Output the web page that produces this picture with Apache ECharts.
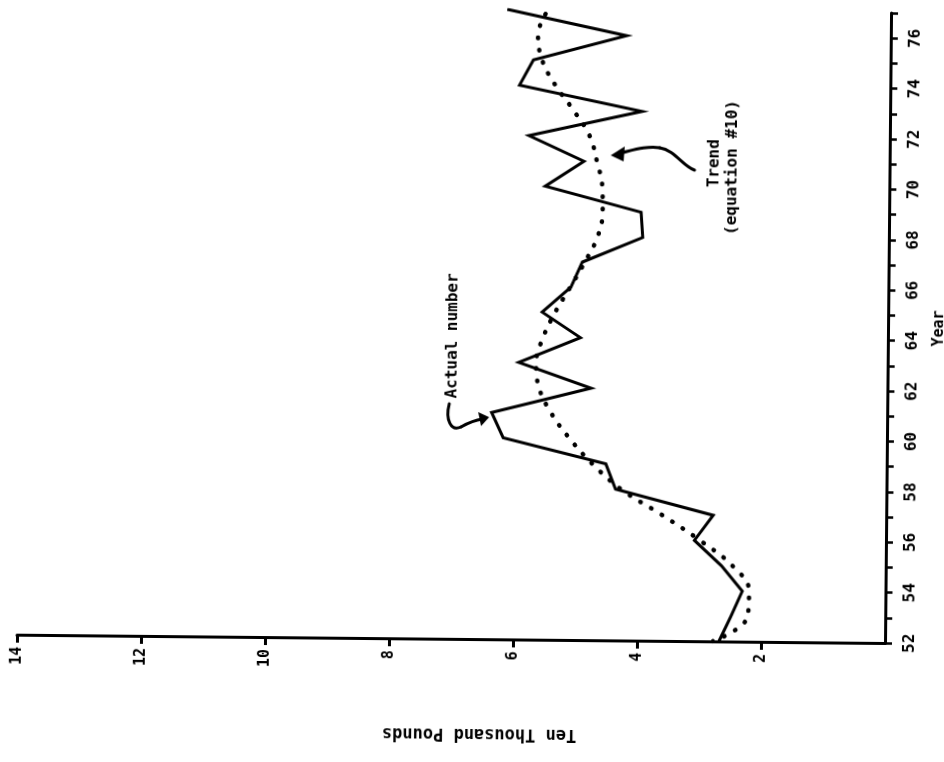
<!DOCTYPE html>
<html>
<head>
<meta charset="utf-8">
<title>Ten Thousand Pounds by Year</title>
<script src="https://cdn.jsdelivr.net/npm/echarts@6/dist/echarts.min.js"></script>
<style>
  html, body { margin: 0; padding: 0; background: #fff; }
  /* the printed page sits very slightly askew; pivot on the axis corner */
  #chart { width: 944px; height: 762px; transform: rotate(0.55deg); transform-origin: 885px 643px; }
</style>
</head>
<body>
<div id="chart"></div>
<script>
// Years plotted along the vertical axis
const years = [52, 53, 54, 55, 56, 57, 58, 59, 60, 61, 62, 63, 64, 65, 66, 67, 68, 69, 70, 71, 72, 73, 74, 75, 76, 77];
// Actual number, ten thousand pounds
const actualValues = [2.68, 2.49, 2.31, 2.65, 3.09, 2.79, 4.37, 4.53, 6.19, 6.38, 4.78, 5.95, 4.96, 5.58, 5.12, 4.94, 3.97, 4.00, 5.55, 4.93, 5.82, 4.00, 5.98, 5.76, 4.26, 6.19];
// Trend (equation #10), ten thousand pounds
const trendValues = [2.78, 2.22, 2.20, 2.47, 3.00, 3.62, 4.28, 4.75, 5.12, 5.42, 5.62, 5.67, 5.56, 5.37, 5.13, 4.90, 4.70, 4.62, 4.63, 4.72, 4.84, 5.10, 5.40, 5.62, 5.69, 5.53];
// Tick labels
const poundTicks = [2, 4, 6, 8, 10, 12, 14];
const yearLabelStep = 2;

const FONT = '"DejaVu Sans Mono", "Liberation Mono", monospace';

const actualData = years.map((y, i) => [actualValues[i], y]);
const trendData = years.map((y, i) => [trendValues[i], y]);

const chart = echarts.init(document.getElementById('chart'), null, { renderer: 'canvas' });

function curve(x1, y1, cpx1, cpy1, cpx2, cpy2, x2, y2) {
  return {
    type: 'bezierCurve',
    shape: { x1, y1, cpx1, cpy1, cpx2, cpy2, x2, y2 },
    style: { stroke: '#000', lineWidth: 3, fill: null, lineCap: 'round' }
  };
}

function note(text, x, y) {
  return {
    type: 'text',
    x, y,
    rotation: Math.PI / 2,
    style: {
      text,
      fill: '#000',
      font: 'bold 16px ' + FONT,
      textAlign: 'center',
      textVerticalAlign: 'middle'
    }
  };
}

chart.setOption({
  backgroundColor: '#ffffff',
  animation: false,
  grid: { left: 17, right: 59, top: 13, bottom: 119, containLabel: false, outerBoundsMode: 'none' },
  xAxis: {
    type: 'value',
    inverse: true,
    min: 0,
    max: 14,
    position: 'bottom',
    splitLine: { show: false },
    axisLine: { show: true, lineStyle: { color: '#000', width: 3 } },
    axisTick: { show: true, customValues: poundTicks, length: 8, lineStyle: { color: '#000', width: 3 } },
    axisLabel: {
      customValues: poundTicks,
      rotate: 90,
      margin: 12,
      color: '#000',
      fontFamily: FONT,
      fontWeight: 'bold',
      fontSize: 15
    }
  },
  yAxis: {
    type: 'value',
    min: 52,
    max: 77,
    interval: 1,
    position: 'right',
    name: 'Year',
    nameLocation: 'middle',
    nameRotate: 90,
    nameGap: 44,
    nameTextStyle: { color: '#000', fontFamily: FONT, fontWeight: 'bold', fontSize: 15 },
    splitLine: { show: false },
    axisLine: { show: true, lineStyle: { color: '#000', width: 3 } },
    axisTick: { show: true, length: 7, lineStyle: { color: '#000', width: 2.5 } },
    axisLabel: {
      rotate: 90,
      margin: 17,
      color: '#000',
      fontFamily: FONT,
      fontWeight: 'bold',
      fontSize: 16,
      formatter: v => (v % yearLabelStep === 0 && v < 77) ? String(v) : ''
    }
  },
  series: [
    {
      name: 'Actual number',
      type: 'line',
      data: actualData,
      symbol: 'none',
      lineStyle: { color: '#000', width: 3, join: 'miter' },
      z: 3
    },
    {
      name: 'Trend (equation #10)',
      type: 'line',
      data: trendData,
      smooth: 0.4,
      symbol: 'none',
      lineStyle: { color: '#000', width: 4.5, type: [0.5, 12], cap: 'round' },
      z: 2
    }
  ],
  graphic: [
    // value-axis title, printed upside down
    {
      type: 'text',
      x: 480, y: 737,
      rotation: Math.PI,
      style: {
        text: 'Ten Thousand Pounds',
        fill: '#000',
        font: 'bold 17px ' + FONT,
        textAlign: 'center',
        textVerticalAlign: 'middle'
      }
    },
    // "Actual number" note with its curled pointer
    note('Actual number', 450, 340),
    curve(447, 408, 443, 424, 449, 436, 459, 431),
    curve(459, 431, 466, 427, 472, 424, 480, 423),
    {
      type: 'polygon',
      shape: { points: [[487, 421], [476, 416], [479, 430]] },
      style: { fill: '#000' }
    },
    // "Trend (equation #10)" note with its pointer
    note('Trend', 710, 165),
    note('(equation #10)', 728, 169),
    curve(690, 172, 678, 168, 670, 152, 655, 150),
    curve(655, 150, 643, 148, 630, 152, 618, 155),
    {
      type: 'polygon',
      shape: { points: [[606, 158], [620, 149], [619, 164]] },
      style: { fill: '#000' }
    }
  ]
});
</script>
</body>
</html>
